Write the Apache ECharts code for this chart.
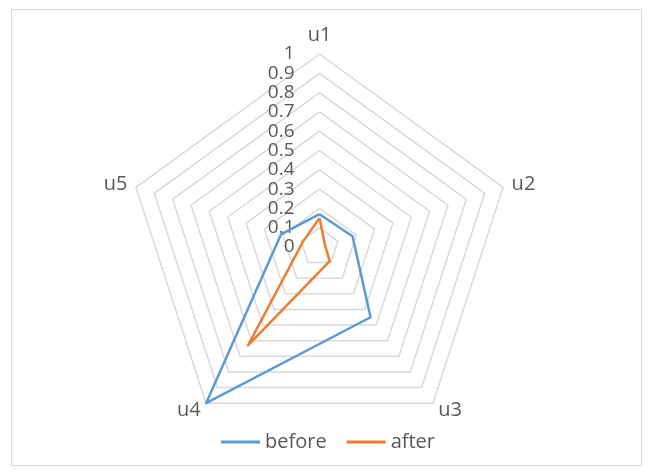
<!DOCTYPE html>
<html>
<head>
<meta charset="utf-8">
<script src="https://cdn.jsdelivr.net/npm/echarts@6/dist/echarts.min.js"></script>
<style>
  html, body { margin: 0; padding: 0; background: #fff; }
  #chart { position: absolute; left: 0; top: 0; width: 648px; height: 473px; }
  #frame { position: absolute; left: 11px; top: 9px; width: 629px; height: 455px;
           border: 1px solid #d9d9d9; pointer-events: none; }
</style>
</head>
<body>
<div id="chart"></div>
<div id="frame"></div>
<script>
// Radar categories and the two series
const axes = ['u1', 'u2', 'u3', 'u4', 'u5'];
const before = [0.17, 0.18, 0.45, 1.0, 0.21];
const after = [0.15, 0.03, 0.09, 0.63, 0.09];
const scaleMin = 0;
const scaleMax = 1;
const scaleStep = 0.1;

// ECharts lays radar indicators out counter-clockwise; list them in reverse
// after the first so u1..u5 run clockwise from the top.
const order = [0].concat(axes.slice(1).map((_, i) => axes.length - 1 - i));
const pick = arr => order.map(i => arr[i]);

const textColor = '#595959';
const font = '"Open Sans", "Liberation Sans", sans-serif';
const cx = 319.5, cy = 247, radius = 193;

const chart = echarts.init(document.getElementById('chart'), null, { renderer: 'canvas' });

chart.setOption({
  animation: false,
  textStyle: { fontFamily: font },
  legend: {
    data: ['before', 'after'],
    left: 216,
    top: 427,
    icon: 'rect',
    itemWidth: 39,
    itemHeight: 3,
    itemGap: 20,
    textStyle: { color: textColor, fontSize: 20, fontFamily: font }
  },
  radar: {
    center: [cx, cy],
    radius: radius,
    startAngle: 90,
    splitNumber: Math.round((scaleMax - scaleMin) / scaleStep),
    shape: 'polygon',
    indicator: pick(axes).map(n => ({ name: n, min: scaleMin, max: scaleMax })),
    axisName: { color: textColor, fontSize: 20, fontFamily: font },
    nameGap: 9,
    axisLine: { show: false },
    axisTick: { show: false },
    axisLabel: { show: false },
    splitArea: { show: false },
    splitLine: { lineStyle: { color: '#d9d9d9', width: 1.5 } }
  },
  // value scale shown along the u1 spoke
  grid: { left: cx, top: cy - radius, width: 1, height: radius },
  xAxis: { type: 'value', show: false },
  yAxis: {
    type: 'value',
    min: scaleMin,
    max: scaleMax,
    interval: scaleStep,
    axisLine: { show: false },
    axisTick: { show: false },
    splitLine: { show: false },
    axisLabel: {
      margin: 25,
      color: textColor,
      fontSize: 19,
      fontFamily: font,
      formatter: v => String(+v.toFixed(1))
    }
  },
  series: [{
    type: 'radar',
    symbol: 'none',
    data: [
      { name: 'before', value: pick(before),
        lineStyle: { color: '#5b9bd5', width: 2.5 }, itemStyle: { color: '#5b9bd5' } },
      { name: 'after', value: pick(after),
        lineStyle: { color: '#ed7d31', width: 2.5 }, itemStyle: { color: '#ed7d31' } }
    ]
  }]
});
</script>
</body>
</html>
